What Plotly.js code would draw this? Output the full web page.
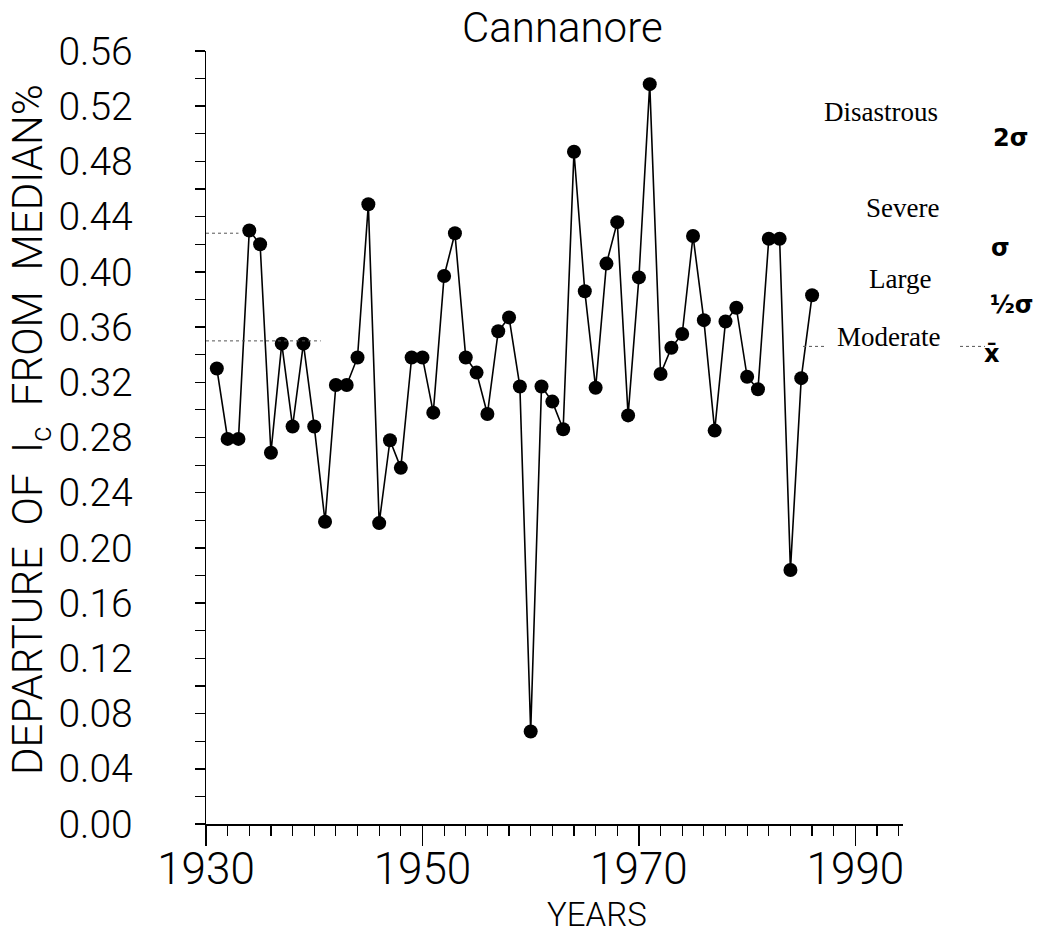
<!DOCTYPE html>
<html>
<head>
<meta charset="utf-8">
<script src="https://cdn.plot.ly/plotly-3.0.1.min.js"></script>
<style>html,body{margin:0;padding:0;background:#fff;}#chart{width:1049px;height:937px;}</style>
</head>
<body>
<div id="chart"></div>
<script>
// ---- data ----
const years = [1931,1932,1933,1934,1935,1936,1937,1938,1939,1940,
               1941,1942,1943,1944,1945,1946,1947,1948,1949,1950,
               1951,1952,1953,1954,1955,1956,1957,1958,1959,1960,
               1961,1962,1963,1964,1965,1966,1967,1968,1969,1970,
               1971,1972,1973,1974,1975,1976,1977,1978,1979,1980,
               1981,1982,1983,1984,1985,1986];
const departure = [0.330,0.279,0.279,0.430,0.420,0.269,0.348,0.288,0.348,0.288,
                   0.219,0.318,0.318,0.338,0.449,0.218,0.278,0.258,0.338,0.338,
                   0.298,0.397,0.428,0.338,0.327,0.297,0.357,0.367,0.317,0.067,
                   0.317,0.306,0.286,0.487,0.386,0.316,0.406,0.436,0.296,0.396,
                   0.536,0.326,0.345,0.355,0.426,0.365,0.285,0.364,0.374,0.324,
                   0.315,0.424,0.424,0.184,0.323,0.383];
const classLabels = ["Disastrous","Severe","Large","Moderate"];
const sigmaLabels = ["2σ","σ","½σ","x̄"];
const meanLevel = 0.350;
const sigmaLevel = 0.428;

// ---- layout geometry ----
const W = 1049, H = 937;
const M = {l:206, r:146, t:51, b:113};
const PW = W - M.l - M.r, PH = H - M.t - M.b;
const px = x => (x - M.l) / PW;          // pixel -> paper x
const py = y => 1 - (y - M.t) / PH;      // pixel -> paper y

const thin = "Roboto, Liberation Sans, sans-serif";
const serif = "Liberation Serif, Times New Roman, serif";

const trace = {
  x: years, y: departure, type: 'scatter', mode: 'lines+markers',
  line: {color:'#000', width:1.6},
  marker: {color:'#000', size:14},
  hoverinfo: 'x+y', showlegend: false
};

const classPos = [[881,112],[902,208],[900,279],[888,337]];
const sigmaPos = [[1010,138],[1000,248],[1012,305],[992,354]];

const annotations = [
  {text:'Cannanore', xref:'paper', yref:'paper', x:px(562), y:py(27), showarrow:false,
   xanchor:'center', yanchor:'middle', font:{family:thin, size:42, color:'#000', weight:300}},
  {text:'YEARS', xref:'paper', yref:'paper', x:px(597), y:py(914), showarrow:false,
   xanchor:'center', yanchor:'middle', font:{family:thin, size:33, color:'#000', weight:300}},
  {text:'DEPARTURE&nbsp;&nbsp;OF&nbsp;&nbsp;I<sub>c</sub>&nbsp;&nbsp;FROM&nbsp;&nbsp;MEDIAN%', xref:'paper', yref:'paper', x:px(30), y:py(430),
   showarrow:false, textangle:-90, xanchor:'center', yanchor:'middle',
   font:{family:thin, size:42, color:'#000', weight:300}}
];
classLabels.forEach((t,i)=>annotations.push({text:t, xref:'paper', yref:'paper',
  x:px(classPos[i][0]), y:py(classPos[i][1]), showarrow:false, xanchor:'center', yanchor:'middle',
  font:{family:serif, size:27, color:'#000'}}));
sigmaLabels.forEach((t,i)=>annotations.push({text:t, xref:'paper', yref:'paper',
  x:px(sigmaPos[i][0]), y:py(sigmaPos[i][1]), showarrow:false, xanchor:'center', yanchor:'middle',
  font:{family:'DejaVu Sans, sans-serif', size:24, color:'#000', weight:700}}));

const dotted = {color:'#555', width:1, dash:'dot'};
const shapes = [
  {type:'line', xref:'x', yref:'y', x0:1930, x1:1940.6, y0:meanLevel, y1:meanLevel, line:dotted},
  {type:'line', xref:'x', yref:'y', x0:1930, x1:1933, y0:sigmaLevel, y1:sigmaLevel, line:dotted},
  {type:'line', xref:'paper', yref:'y', x0:px(803), x1:px(827), y0:0.346, y1:0.346, line:dotted},
  {type:'line', xref:'paper', yref:'y', x0:px(960), x1:px(985), y0:0.346, y1:0.346, line:dotted}
];

const layout = {
  width:W, height:H, margin:M,
  paper_bgcolor:'#fff', plot_bgcolor:'#fff',
  showlegend:false,
  xaxis:{range:[1930,1994.4], tick0:1930, dtick:20, ticks:'outside', ticklen:20, tickwidth:1.5,
         tickcolor:'#000', showline:true, linecolor:'#000', linewidth:1.5, showgrid:false, zeroline:false,
         tickfont:{family:thin, size:44, color:'#000', weight:300}, ticklabelstandoff:-14,
         minor:{dtick:2, ticks:'outside', ticklen:10, tickwidth:1.2, tickcolor:'#000', showgrid:false}},
  yaxis:{range:[0,0.56], tick0:0, dtick:0.04, tickformat:'.2f', ticks:'outside', ticklen:10, tickwidth:1.5,
         tickcolor:'#000', showline:true, linecolor:'#000', linewidth:1.5, showgrid:false, zeroline:false,
         tickfont:{family:thin, size:39, color:'#000', weight:300}, ticklabelstandoff:54,
         minor:{dtick:0.02, ticks:'outside', ticklen:10, tickwidth:1.2, tickcolor:'#000', showgrid:false}},
  annotations:annotations, shapes:shapes
};

Plotly.newPlot('chart', [trace], layout, {displayModeBar:false, staticPlot:true});
</script>
</body>
</html>
